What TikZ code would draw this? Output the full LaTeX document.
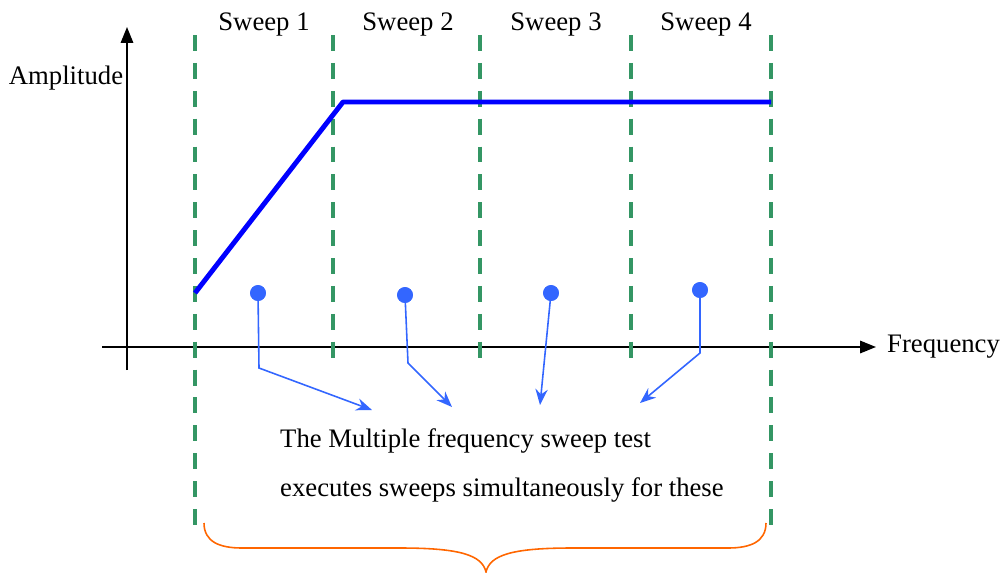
\documentclass[tikz,border=0pt]{standalone}
\usepackage{fontspec}
\setmainfont{Liberation Serif}
\usetikzlibrary{arrows.meta,calc,positioning}
\definecolor{sepgreen}{RGB}{52,150,100}
\definecolor{dotblue}{RGB}{51,102,255}
\definecolor{braceorange}{RGB}{255,102,0}
\tikzset{
  axis/.style={-{Triangle[length=9pt,width=7pt]},line width=1.1pt},
  sep/.style={sepgreen,line width=2.2pt,dash pattern=on 9.07pt off 6.8pt},
  resp/.style={blue,line width=2.8pt,line join=round},
  sdot/.style={circle,fill=dotblue,inner sep=0pt,minimum size=9pt},
  pointer/.style={-{Stealth[length=9pt,width=7pt]},dotblue,line width=0.9pt},
  brc/.style={braceorange,line width=0.9pt},
  every node/.style={font=\fontsize{15.2}{18}\selectfont}
}
\begin{document}
\begin{tikzpicture}[x=0.02cm,y=-0.02cm]
\useasboundingbox (0,0) rectangle (1004,572);
% axes
\coordinate (O) at (127,347);
\coordinate (ytop) at (127,27);
\coordinate (ybot) at (127,370);
\coordinate (xl) at (102,347);
\coordinate (xr) at (876,347);
\draw[axis] (ybot) -- (ytop);
\draw[axis] (xl) -- (xr);
\node (amp) at (66,78) {Amplitude};
\node[anchor=west] (freq) at (881,347) {Frequency};
% sweep separators (outer ones run down to the brace)
\foreach \i/\x/\yb in {0/195/527,1/333/359,2/480/359,3/631/359,4/771/527}{
  \coordinate (s\i t) at (\x,35);
  \coordinate (s\i b) at (\x,\yb);
  \draw[sep] (s\i t) -- (s\i b);
}
\node (w1) at (264,24) {Sweep 1};
\node (w2) at (408,24) {Sweep 2};
\node (w3) at (556,24) {Sweep 3};
\node (w4) at (706,24) {Sweep 4};
% response
\coordinate (r0) at (195,293);
\coordinate (r1) at (343,102);
\coordinate (r2) at (771,102);
\draw[resp] (r0) -- (r1) -- (r2);
% markers and pointers
\node[sdot] (d1) at (258,293) {};
\node[sdot] (d2) at (405,295) {};
\node[sdot] (d3) at (551,293) {};
\node[sdot] (d4) at (700,290) {};
\coordinate (k1) at (259,368);
\coordinate (k2) at (408,363);
\coordinate (k4) at (700,353);
\coordinate (e1) at (372,410);
\coordinate (e2) at (452,407);
\coordinate (e3) at (540,405);
\coordinate (e4) at (640,403);
\draw[pointer] (d1.center) -- (k1) -- (e1);
\draw[pointer] (d2.center) -- (k2) -- (e2);
\draw[pointer] (d3.center) -- (e3);
\draw[pointer] (d4.center) -- (k4) -- (e4);
\node[sdot] at (d1) {};
\node[sdot] at (d2) {};
\node[sdot] at (d3) {};
\node[sdot] at (d4) {};
% caption
\node[anchor=west] (t1) at (274,441) {The Multiple frequency sweep test};
\node[anchor=west] (t2) at (274,490) {executes sweeps simultaneously for these};
% brace
\coordinate (bl) at (204,523);
\coordinate (br) at (766,523);
\coordinate (bm) at (486,572);
\draw[brc] (bl) .. controls (204,542) and (220,548) .. (242,548) -- (400,548)
  .. controls (460,548) and (482,555) .. (bm)
  .. controls (490,555) and (512,548) .. (572,548) -- (728,548)
  .. controls (750,548) and (766,542) .. (br);
\end{tikzpicture}
\end{document}
